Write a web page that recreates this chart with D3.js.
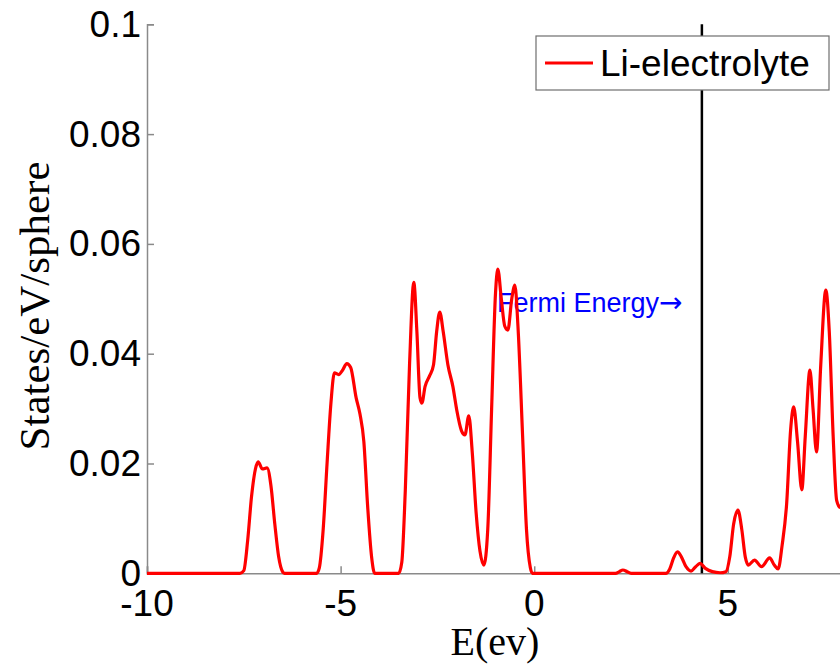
<!DOCTYPE html>
<html>
<head>
<meta charset="utf-8">
<script src="https://cdn.jsdelivr.net/npm/d3@7"></script>
<style>
  body { margin: 0; background: #fff; }
</style>
</head>
<body>
<div id="canvas"></div>
<script>
const width = 840;
const height = 665;

// density of states
const energy = [-10, -7.6, -7.5, -7.4, -7.3, -7.2, -7.13, -7.02, -6.9, -6.8, -6.7, -6.6, -6.5, -6.45,
    -5.62, -5.55, -5.45, -5.35, -5.25, -5.16, -5.05, -4.95, -4.84, -4.74, -4.6, -4.5, -4.4, -4.3, -4.2, -4.12,
    -3.5, -3.42, -3.33, -3.22, -3.11, -3.03, -2.95, -2.9, -2.82, -2.7, -2.6, -2.52, -2.44, -2.35, -2.23, -2.1,
    -2.0, -1.88, -1.79, -1.69, -1.6, -1.5, -1.4, -1.3, -1.2, -1.1, -1.0, -0.94, -0.85, -0.76, -0.68, -0.58,
    -0.5, -0.42, -0.3, -0.2, -0.1, -0.05,
    2.1, 2.2, 2.29, 2.4, 2.5,
    3.4, 3.5, 3.6, 3.7, 3.8, 3.92, 4.05, 4.17, 4.28, 4.42, 4.6, 4.8, 4.95, 5.05, 5.15, 5.26, 5.36, 5.45,
    5.53, 5.69, 5.87, 6.08, 6.2, 6.3, 6.4, 6.52, 6.62, 6.7, 6.8, 6.91, 7.0, 7.12, 7.2, 7.29, 7.4, 7.53,
    7.62, 7.72, 7.81, 7.9, 8.0];
const dos = [0, 0, 0.0005, 0.006, 0.014, 0.019, 0.0203, 0.019, 0.0192, 0.016, 0.009, 0.003, 0.0003, 0,
    0, 0.001, 0.008, 0.02, 0.031, 0.0365, 0.0362, 0.037, 0.0382, 0.0375, 0.032, 0.029, 0.024, 0.012, 0.003, 0,
    0, 0.002, 0.015, 0.038, 0.053, 0.044, 0.032, 0.031, 0.034, 0.036, 0.038, 0.044, 0.0476, 0.044, 0.038, 0.034,
    0.0297, 0.026, 0.0252, 0.0287, 0.022, 0.011, 0.004, 0.0015, 0.008, 0.03, 0.051, 0.0554, 0.05, 0.045, 0.0443, 0.05,
    0.0525, 0.045, 0.025, 0.008, 0.001, 0,
    0, 0.0003, 0.0006, 0.0003, 0,
    0, 0.0008, 0.0028, 0.0039, 0.003, 0.0012, 0.0004, 0.0012, 0.0018, 0.0009, 0.0003, 0.0001, 0.0003, 0.003, 0.009, 0.0115, 0.008, 0.003,
    0.0015, 0.0024, 0.0012, 0.0028, 0.0015, 0.0008, 0.005, 0.0128, 0.026, 0.0303, 0.024, 0.0152, 0.025, 0.037, 0.03, 0.0221, 0.038, 0.0516,
    0.044, 0.025, 0.0133, 0.012, 0.015];

const xTicks = [-10, -5, 0, 5];
const yTicks = [0, 0.02, 0.04, 0.06, 0.08, 0.1];
const yTickLabels = ["0", "0.02", "0.04", "0.06", "0.08", "0.1"];
const fermi = 4.33;
const seriesName = "Li-electrolyte";

const svg = d3.select("#canvas")
    .append("svg")
    .attr("width", width)
    .attr("height", height);

const x = d3.scaleLinear().domain([-10, 8]).range([147, 844]);
const y = d3.scaleLinear().domain([0, 0.1]).range([573.3, 24.3]);

const axisColor = "#8a8a8a";

// axes (ticks point inward like matlab)
svg.append("g")
    .attr("transform", `translate(0,${y(0)})`)
    .call(d3.axisBottom(x).tickValues(xTicks).tickSize(-7).tickFormat(""))
    .call(g => g.select(".domain").attr("stroke", axisColor).attr("stroke-width", 1.5))
    .call(g => g.selectAll(".tick line").attr("stroke", axisColor).attr("stroke-width", 1.5));

svg.append("g")
    .attr("transform", `translate(${x(-10)},0)`)
    .call(d3.axisLeft(y).tickValues(yTicks).tickSize(-7).tickFormat(""))
    .call(g => g.select(".domain").attr("stroke", axisColor).attr("stroke-width", 1.5))
    .call(g => g.selectAll(".tick line").attr("stroke", axisColor).attr("stroke-width", 1.5));

svg.selectAll(".xlab")
    .data(xTicks)
    .enter()
    .append("text")
    .attr("x", d => x(d))
    .attr("y", 616)
    .attr("text-anchor", "middle")
    .attr("font-family", "Liberation Sans, Arial, sans-serif")
    .attr("font-size", 37)
    .text(d => d);

svg.selectAll(".ylab")
    .data(yTicks)
    .enter()
    .append("text")
    .attr("x", 141)
    .attr("y", d => y(d))
    .attr("dy", "0.34em")
    .attr("text-anchor", "end")
    .attr("font-family", "Liberation Sans, Arial, sans-serif")
    .attr("font-size", 37)
    .text((d, i) => yTickLabels[i]);

// axis titles
svg.append("text")
    .attr("x", 495)
    .attr("y", 655)
    .attr("text-anchor", "middle")
    .attr("font-family", "Liberation Serif, Times New Roman, serif")
    .attr("font-size", 40)
    .text("E(ev)");

svg.append("text")
    .attr("transform", "translate(49,306)rotate(-90)")
    .attr("text-anchor", "middle")
    .attr("font-family", "Liberation Serif, Times New Roman, serif")
    .attr("font-size", 43)
    .text("States/eV/sphere");

// fermi level marker
svg.append("line")
    .attr("x1", x(fermi))
    .attr("x2", x(fermi))
    .attr("y1", y(0.1))
    .attr("y2", y(0))
    .attr("stroke", "#000")
    .attr("stroke-width", 2.5);

const fermiText = svg.append("text")
    .attr("x", 497)
    .attr("y", 312)
    .attr("font-family", "Liberation Sans, Arial, sans-serif")
    .attr("font-size", 27)
    .attr("fill", "#0000ff");

fermiText.append("tspan").text("Fermi Energy");
fermiText.append("tspan")
    .attr("font-family", "DejaVu Sans, sans-serif")
    .attr("font-size", 28)
    .text("\u2192");

// dos curve
svg.append("clipPath")
    .attr("id", "plotclip")
    .append("rect")
    .attr("x", x(-10))
    .attr("y", 0)
    .attr("width", x(8) - x(-10))
    .attr("height", y(0) + 3);

const line = d3.line()
    .x((d, i) => x(energy[i]))
    .y(d => y(d))
    .curve(d3.curveMonotoneX);

svg.append("path")
    .attr("d", line(dos))
    .attr("clip-path", "url(#plotclip)")
    .attr("fill", "none")
    .attr("stroke", "#ff0000")
    .attr("stroke-width", 3.2)
    .attr("stroke-linejoin", "round");

// legend
svg.append("rect")
    .attr("x", 536)
    .attr("y", 36)
    .attr("width", 293)
    .attr("height", 54)
    .attr("fill", "#fff")
    .attr("stroke", "#6e6e6e")
    .attr("stroke-width", 1.2);

svg.append("line")
    .attr("x1", 545)
    .attr("x2", 593)
    .attr("y1", 63)
    .attr("y2", 63)
    .attr("stroke", "#ff0000")
    .attr("stroke-width", 3);

svg.append("text")
    .attr("x", 600)
    .attr("y", 76)
    .attr("font-family", "Liberation Sans, Arial, sans-serif")
    .attr("font-size", 37)
    .text(seriesName);
</script>
</body>
</html>
